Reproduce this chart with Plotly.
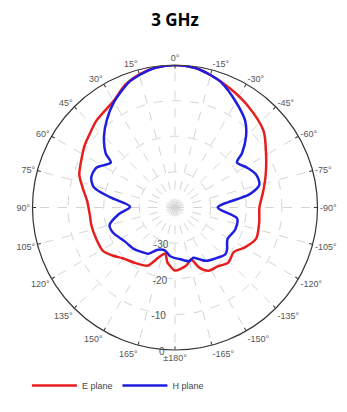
import plotly.graph_objects as go

# E plane (red)
e_theta = [-180, -169, -163, -158, -152, -144, -136, -127, -120, -111, -100, -90, -80, -70, -59, -49,
           -35, -25, -15, -8, 0, 8, 15, 22, 30, 42, 50, 56, 63, 71, 78, 86, 95, 102, 112, 121, 128,
           134, 144, 150, 155, 160, 164, 168, 172, 175, 180]
e_db = [-22.3, -23.4, -24.7, -21.8, -19.9, -19.6, -18.5, -19.3, -17.5, -15.6, -16.0, -16.3, -14.9, -12.9,
        -10.2, -7.1, -4.8, -3.2, -1.5, -0.4, 0.0, -0.4, -1.3, -2.8, -5.5, -7.1, -8.5, -9.3, -10.5, -11.6,
        -13.5, -15.3, -16.0, -16.0, -16.2, -16.4, -18.0, -19.5, -20.8, -21.4, -22.0, -24.5, -26.0, -26.8,
        -24.5, -23.6, -22.3]

# H plane (blue)
h_theta = [-180, -175, -165, -160, -155, -150, -142, -133, -129, -121, -110, -100, -90, -80, -75, -68,
           -61, -54, -51, -45, -39, -30, -20, -15, -8, 0, 8, 15, 20, 30, 38, 45, 52, 55, 63, 70, 76, 81,
           89, 97, 105, 112, 124, 135, 143, 150, 158, 167, 174, 180]
h_db = [-25.8, -25.5, -24.4, -25.0, -24.0, -22.7, -21.8, -20.7, -21.2, -22.8, -22.0, -22.3, -28.0, -18.8,
        -15.5, -15.4, -16.9, -18.5, -15.8, -11.8, -8.7, -5.8, -2.5, -1.5, -0.4, 0.0, -0.4, -1.5, -2.5,
        -5.8, -8.9, -11.8, -15.3, -18.0, -15.3, -15.0, -16.5, -21.5, -27.4, -24.0, -21.0, -21.2, -23.0,
        -23.6, -24.4, -25.0, -27.2, -27.6, -26.3, -25.8]

angle_vals = list(range(0, 360, 15))
angle_text = []
for a in angle_vals:
    if a == 0:
        angle_text.append("0°")
    elif a < 180:
        angle_text.append(f"{a}°")
    elif a == 180:
        angle_text.append("±180°")
    else:
        angle_text.append(f"-{360 - a}°")

radial_vals = [-30, -20, -10, 0]
radial_text = ["-30", "-20", "-10", "0"]

fig = go.Figure()
fig.add_trace(go.Scatterpolar(theta=e_theta, r=e_db, mode="lines", name="E plane",
                              line=dict(color="#e61e1e", width=2.5, shape="spline", smoothing=0.8)))
fig.add_trace(go.Scatterpolar(theta=h_theta, r=h_db, mode="lines", name="H plane",
                              line=dict(color="#1e1ee0", width=2.5, shape="spline", smoothing=0.8)))

W, H = 347, 412
L, T, D = 26, 65, 298
B = H - T - D

fig.update_layout(
    width=W, height=H,
    paper_bgcolor="white", plot_bgcolor="white",
    margin=dict(l=L, r=W - L - D, t=T, b=B),
    font=dict(family="Liberation Sans, Arial, sans-serif", size=9, color="#555555"),
    title=dict(text="<b>3 GHz</b>", x=175 / W, xanchor="center", y=1 - 20 / H, yanchor="middle",
               font=dict(family="Open Sans, sans-serif", size=17, color="black")),
    polar=dict(
        domain=dict(x=[0, 1], y=[0, 1]),
        bgcolor="white",
        angularaxis=dict(rotation=90, direction="counterclockwise",
                         tickmode="array", tickvals=angle_vals, ticktext=angle_text,
                         showline=True, linecolor="#333333", linewidth=1.2,
                         ticks="inside", ticklen=3, tickcolor="#333333",
                         showgrid=True, gridcolor="#d4d4d4", griddash="dash", gridwidth=1,
                         tickfont=dict(size=9, color="#555555")),
        radialaxis=dict(range=[-40, 0], tickmode="array", tickvals=radial_vals, ticktext=radial_text,
                        angle=268, tickangle=-92, showline=False, ticks="",
                        showgrid=True, gridcolor="#d4d4d4", griddash="dash", gridwidth=1,
                        tickfont=dict(size=10, color="#555555")),
    ),
    showlegend=True,
    legend=dict(orientation="h", x=0.003, xanchor="left", y=(H - B - 400) / D, yanchor="middle",
                font=dict(size=9, color="#444444"), itemwidth=45, bgcolor="rgba(0,0,0,0)"),
)

fig.write_html("out.html", config={"displayModeBar": False},
               post_script="document.body.style.margin='0';document.body.style.overflow='hidden';")
